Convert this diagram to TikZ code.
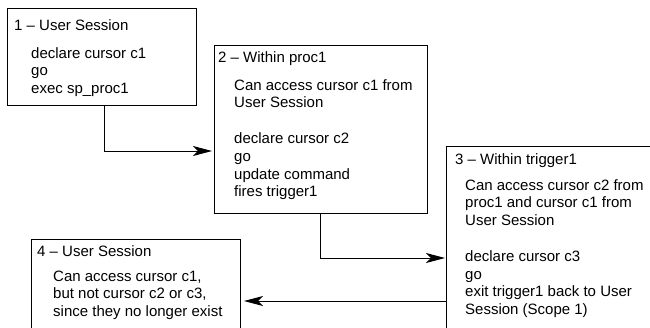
\documentclass[tikz,border=0pt]{standalone}
\usepackage{fontspec}
\setmainfont{Liberation Sans}
\usetikzlibrary{arrows.meta}
% left-aligned block of lines whose baseline is the baseline of its first line
\newcommand\textlines[1]{\vtop{\baselineskip=17.8pt\lineskiplimit=0pt\halign{##\hfil\cr#1\crcr}}}
\tikzset{
  panel/.style={draw=black, line width=1pt, rectangle, anchor=north west, inner sep=0pt, outer sep=0pt},
  heading/.style={anchor=base west, inner sep=0pt, font=\fontsize{15}{17.8}\selectfont},
  bodytext/.style={anchor=base west, inner sep=0pt, font=\fontsize{15}{17.8}\selectfont},
  link/.style={line width=1pt, -{Stealth[length=19pt,width=10pt,inset=5pt]}},
}
\begin{document}
\begin{tikzpicture}[x=1pt,y=-1pt]
  \useasboundingbox (0,0) rectangle (650,327);
  \fill[white] (0,0) rectangle (650,327);
  \clip (0,0) rectangle (650,327);

  % scope boxes
  \node[panel, minimum width=189pt, minimum height=97pt]  (s1) at (7,8) {};
  \node[panel, minimum width=213pt, minimum height=168pt] (s2) at (214,45) {};
  \node[panel, minimum width=220pt, minimum height=200pt] (s3) at (446,146) {};
  \node[panel, minimum width=209pt, minimum height=100pt] (s4) at (31,239) {};

  % headings
  \node[heading] (t1) at (14,30.5)  {1 \textendash{} User Session};
  \node[heading] (t2) at (218,62)   {2 \textendash{} Within proc1};
  \node[heading] (t3) at (455,164.7){3 \textendash{} Within trigger1};
  \node[heading] (t4) at (37,256)   {4 \textendash{} User Session};

  % contents
  \node[bodytext] (x1) at (31,58) {\textlines{declare cursor c1\cr go\cr exec sp\_proc1}};
  \node[bodytext] (x2) at (234,90) {\textlines{Can access cursor c1 from\cr User Session\cr\cr
      declare cursor c2\cr go\cr update command\cr fires trigger1}};
  \node[bodytext] (x3) at (465,190) {\textlines{Can access cursor c2 from\cr proc1 and cursor c1 from\cr
      User Session\cr\cr declare cursor c3\cr go\cr exit trigger1 back to User\cr Session (Scope 1)}};
  \node[bodytext] (x4) at (53,281) {\textlines{Can access cursor c1,\cr but not cursor c2 or c3,\cr
      since they no longer exist}};

  % connectors
  \coordinate (in2) at ([yshift=-106pt]s2.north west);
  \coordinate (in3) at ([yshift=-112pt]s3.north west);
  \coordinate (out3) at ([yshift=-155pt]s3.north west);
  \draw[link, shorten >=2pt] ([xshift=2.5pt]s1.south) |- (in2);
  \draw[link, shorten >=1pt] (s2.south) |- (in3);
  \draw[link, shorten >=4pt] (out3) -- (s4.east |- out3);
\end{tikzpicture}
\end{document}
